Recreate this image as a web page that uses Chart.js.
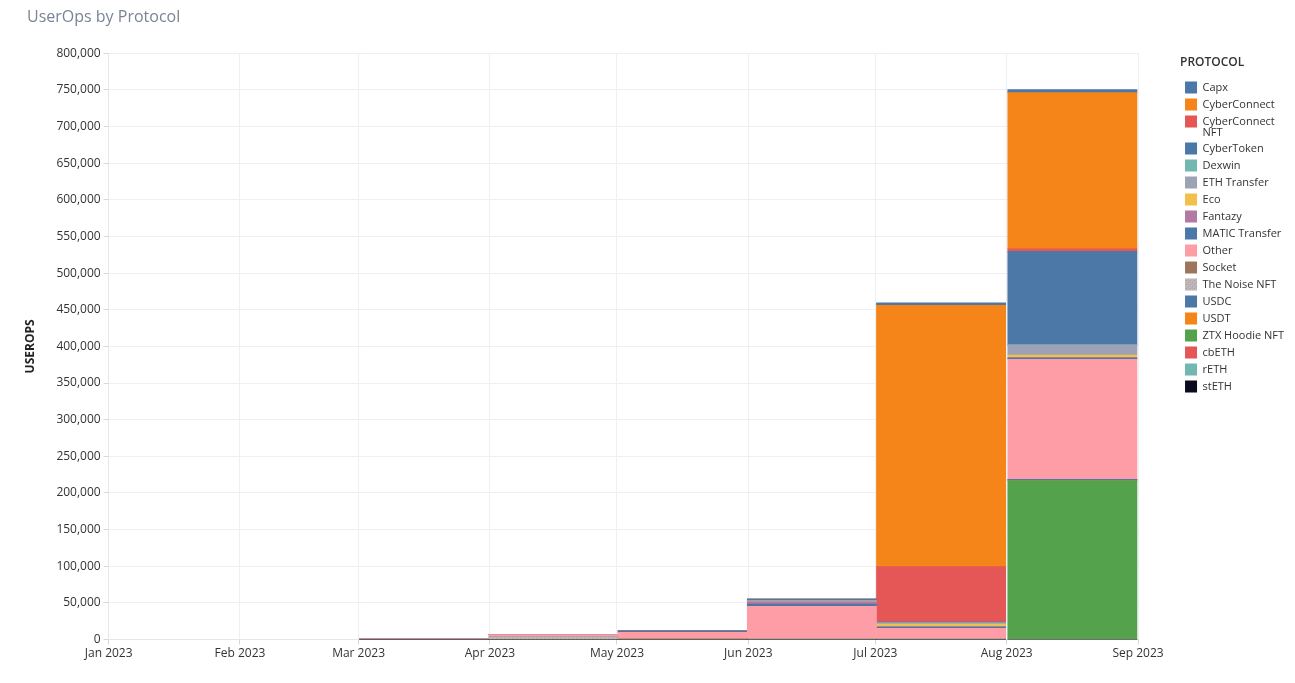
<!DOCTYPE html>
<html>
<head>
<meta charset="utf-8">
<title>UserOps by Protocol</title>
<script src="https://cdn.jsdelivr.net/npm/chart.js@4.4.0/dist/chart.umd.min.js"></script>
<style>
  html, body { margin: 0; padding: 0; background: #fff; }
  #wrap { width: 1295px; height: 683px; }
</style>
</head>
<body>
<div id="wrap"><canvas id="userops" width="1295" height="683"></canvas></div>
<script>
// months with data (bars span the whole month)
const months = ['2023-03', '2023-04', '2023-05', '2023-06', '2023-07', '2023-08'];
// x axis ticks
const tickMonths = ['2023-01', '2023-02', '2023-03', '2023-04', '2023-05', '2023-06', '2023-07', '2023-08', '2023-09'];
const tickLabels = ['Jan 2023', 'Feb 2023', 'Mar 2023', 'Apr 2023', 'May 2023', 'Jun 2023', 'Jul 2023', 'Aug 2023', 'Sep 2023'];

// userops per protocol, Mar..Aug
const capx            = [0, 0, 0, 0, 3400, 4100];
const cyberConnect    = [0, 0, 0, 0, 356500, 213300];
const cyberConnectNft = [0, 0, 0, 0, 75600, 3400];
const cyberToken      = [0, 0, 1800, 2000, 1200, 127500];
const dexwin          = [0, 0, 0, 0, 0, 0];
const ethTransfer     = [0, 0, 0, 1800, 1500, 14100];
const eco             = [0, 0, 0, 0, 3500, 3700];
const fantazy         = [0, 0, 0, 3000, 800, 0];
const maticTransfer   = [0, 0, 0, 3200, 1500, 1800];
const other           = [900, 3000, 9000, 44200, 14500, 163700];
const socket          = [0, 0, 1000, 0, 0, 0];
const noiseNft        = [0, 3700, 0, 1200, 1000, 0];
const usdc            = [0, 0, 0, 0, 0, 1800];
const usdt            = [0, 0, 0, 0, 0, 0];
const ztxHoodieNft    = [0, 0, 0, 0, 0, 217000];
const cbEth           = [0, 0, 0, 0, 0, 0];
const rEth            = [0, 0, 0, 0, 0, 0];
const stEth           = [0, 0, 0, 0, 0, 0];

const DAY = 86400000;
const origin = Date.UTC(2023, 0, 1);
function dayOf(ym) {
  const [y, m] = ym.split('-').map(Number);
  return (Date.UTC(y, m - 1, 1) - origin) / DAY;
}
function nextMonth(ym) {
  const [y, m] = ym.split('-').map(Number);
  return m === 12 ? (y + 1) + '-01' : y + '-' + String(m + 1).padStart(2, '0');
}
const tickDays = tickMonths.map(dayOf);
const centers = months.map(m => (dayOf(m) + dayOf(nextMonth(m))) / 2);
const xMin = tickDays[0], xMax = tickDays[tickDays.length - 1];

function noisePattern() {
  const c = document.createElement('canvas');
  c.width = 4; c.height = 4;
  const g = c.getContext('2d');
  g.fillStyle = '#b8b4ba'; g.fillRect(0, 0, 4, 4);
  g.fillStyle = '#d8a8ae'; g.fillRect(0, 0, 1, 1); g.fillRect(2, 2, 1, 1);
  g.fillStyle = '#9eaabb'; g.fillRect(2, 0, 1, 1); g.fillRect(0, 2, 1, 1);
  g.fillStyle = '#c9c2a8'; g.fillRect(1, 3, 1, 1); g.fillRect(3, 1, 1, 1);
  return g.createPattern(c, 'repeat');
}

// legend order (top of stack first)
const protocols = [
  ['Capx', capx, '#4c78a8'],
  ['CyberConnect', cyberConnect, '#f58518'],
  ['CyberConnect NFT', cyberConnectNft, '#e45756'],
  ['CyberToken', cyberToken, '#4c78a8'],
  ['Dexwin', dexwin, '#72b7b2'],
  ['ETH Transfer', ethTransfer, '#9da3b5'],
  ['Eco', eco, '#f1bf4b'],
  ['Fantazy', fantazy, '#b279a2'],
  ['MATIC Transfer', maticTransfer, '#4c78a8'],
  ['Other', other, '#ff9da6'],
  ['Socket', socket, '#9d755d'],
  ['The Noise NFT', noiseNft, noisePattern()],
  ['USDC', usdc, '#4c78a8'],
  ['USDT', usdt, '#f58518'],
  ['ZTX Hoodie NFT', ztxHoodieNft, '#54a24b'],
  ['cbETH', cbEth, '#e45756'],
  ['rETH', rEth, '#72b7b2'],
  ['stETH', stEth, '#0b0b1f']
];

const datasets = protocols.slice().reverse().map(([label, values, color]) => ({
  label: label,
  data: values.map((v, i) => ({ x: centers[i], y: v })),
  backgroundColor: color,
  borderWidth: 0,
  barPercentage: 1,
  categoryPercentage: 1
}));

const FONT = "'Open Sans', 'Noto Sans', sans-serif";
const gridColor = '#efeff3';

const ctx = document.getElementById('userops');
const myChart = new Chart(ctx, {
  type: 'bar',
  data: { datasets: datasets },
  options: {
    responsive: false,
    animation: false,
    layout: { padding: { left: 27, right: 1, top: 0, bottom: 20 } },
    plugins: {
      title: {
        display: true,
        text: 'UserOps by Protocol',
        align: 'start',
        color: '#7b8396',
        font: { family: FONT, size: 16, weight: 'normal' },
        padding: { top: 8, bottom: 26 }
      },
      tooltip: { enabled: false },
      legend: {
        position: 'right',
        align: 'start',
        fullSize: false,
        reverse: true,
        title: {
          display: true,
          text: 'PROTOCOL',
          position: 'start',
          color: '#333',
          font: { family: FONT, size: 12, weight: '600' },
          padding: { top: 3, bottom: 6 }
        },
        labels: {
          boxWidth: 12,
          boxHeight: 12,
          padding: 5,
          color: '#333',
          font: { family: FONT, size: 11, lineHeight: 1 },
          generateLabels: chart => {
            const items = Chart.defaults.plugins.legend.labels.generateLabels(chart);
            items.forEach(it => {
              it.lineWidth = 0;
              if (it.text.length > 15) {
                const k = it.text.lastIndexOf(' ');
                it.text = [it.text.slice(0, k), it.text.slice(k + 1)];
              }
            });
            return items;
          }
        }
      }
    },
    scales: {
      x: {
        type: 'linear',
        display: false,
        stacked: true,
        offset: false,
        grid: { offset: false },
        min: xMin,
        max: xMax,
        afterBuildTicks: axis => { axis.ticks = [{ value: xMin }, { value: xMax }]; }
      },
      months: {
        type: 'linear',
        position: 'bottom',
        offset: false,
        min: xMin,
        max: xMax,
        afterBuildTicks: axis => { axis.ticks = tickDays.map(v => ({ value: v })); },
        grid: { offset: false, color: gridColor, tickColor: '#d8d8dc', tickLength: 5 },
        border: { color: '#e6e6ea' },
        ticks: {
          autoSkip: false,
          maxRotation: 0,
          color: '#333',
          font: { family: FONT, size: 12 },
          padding: 2,
          callback: (v, i) => tickLabels[i]
        }
      },
      y: {
        stacked: true,
        min: 0,
        max: 800000,
        grid: { color: gridColor, tickColor: '#d8d8dc', tickLength: 5 },
        border: { color: '#e6e6ea' },
        ticks: {
          stepSize: 50000,
          color: '#333',
          padding: 3,
          font: { family: FONT, size: 12 },
          callback: v => v.toLocaleString('en-US')
        },
        title: {
          display: true,
          text: 'USEROPS',
          color: '#222',
          font: { family: FONT, size: 12, weight: 'bold' },
          padding: { top: -4, bottom: 16 }
        }
      },
      gap: {
        position: 'right',
        display: true,
        grid: { display: false, drawTicks: false },
        border: { display: false },
        ticks: { display: false },
        afterFit: axis => { axis.width = 42; }
      }
    }
  }
});
</script>
</body>
</html>
